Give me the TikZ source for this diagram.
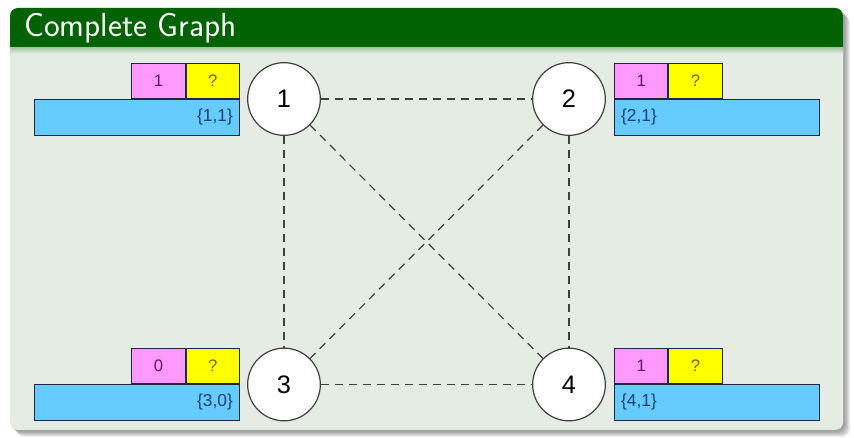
\documentclass[tikz,border=0pt]{standalone}
\usepackage{fontspec}
\usepackage{tikz}
\usetikzlibrary{positioning}
\newfontfamily\labfont{Liberation Sans}
\definecolor{titlegreen}{RGB}{0,98,0}
\definecolor{bodycolor}{RGB}{228,236,228}
\definecolor{cntpink}{RGB}{255,153,255}
\definecolor{cntyellow}{RGB}{255,255,0}
\definecolor{setblue}{RGB}{102,204,255}
\definecolor{boxline}{RGB}{30,40,70}
\definecolor{settext}{RGB}{25,60,120}
\definecolor{pinktext}{RGB}{100,20,100}
\definecolor{yellowtext}{RGB}{110,100,0}
\tikzset{
  vertex/.style={circle, draw=black!75, line width=0.9pt, fill=white, minimum size=54.5pt, inner sep=0pt, font=\labfont\fontsize{19}{21}\selectfont},
  setbox/.style={draw=boxline, line width=0.7pt, fill=setblue, minimum height=27pt, text width=143.75pt, inner xsep=5pt, inner ysep=0pt, font=\labfont\fontsize{13}{15}\selectfont, text=settext},
  cnt/.style={draw=boxline, line width=0.7pt, fill=cntpink, minimum height=26.25pt, minimum width=40pt, inner sep=0pt, font=\labfont\fontsize{12.5}{14}\selectfont, text=pinktext},
  ask/.style={cnt, fill=cntyellow, text=yellowtext},
  edge/.style={dashed, dash pattern=on 6pt off 4.5pt, line width=0.9pt, draw=black!75},
}
\begin{document}
\begin{tikzpicture}[x=0.75pt, y=-0.75pt]
\useasboundingbox (0,0) rectangle (854,438);
% frame with shadow
\foreach \d in {2,...,7}
  \fill[black, opacity=0.07, rounded corners=6pt] (10+\d,8+\d) rectangle (843+\d,430+\d);
\fill[bodycolor, rounded corners=6pt] (10,8) rectangle (843,430);
\begin{scope}
  \clip (0,0) rectangle (854,48);
  \fill[titlegreen, rounded corners=6pt] (10,8) rectangle (843,430);
\end{scope}
\shade[top color=titlegreen!25!bodycolor, bottom color=bodycolor] (10,48) rectangle (843,54);
\node[anchor=base west, inner sep=0pt, text=white, font=\sffamily\fontsize{25}{28}\selectfont] (title) at (24,37) {Complete Graph};

% vertices
\node[vertex] (v1) at (284,99) {1};
\node[vertex] (v2) at (569,99) {2};
\node[vertex] (v3) at (284,384.5) {3};
\node[vertex] (v4) at (569,384.5) {4};

% edges
\draw[edge] (v1) -- (v2);
\draw[edge] (v1) -- (v3);
\draw[edge] (v2) -- (v4);
\draw[edge] (v3) -- (v4);
\draw[edge] (v1) -- (v4);
\draw[edge] (v2) -- (v3);

% boxes
\node[setbox, align=right, anchor=north east] (s1) at (240,99) {\{1,1\}};
\node[ask, above left=0pt of s1.north east] (q1) {?};
\node[cnt, left=0pt of q1] (c1) {1};

\node[setbox, align=left, anchor=north west] (s2) at (614,99) {\{2,1\}};
\node[cnt, above right=0pt of s2.north west] (c2) {1};
\node[ask, right=0pt of c2] (q2) {?};

\node[setbox, align=right, anchor=north east] (s3) at (240,384) {\{3,0\}};
\node[ask, above left=0pt of s3.north east] (q3) {?};
\node[cnt, left=0pt of q3] (c3) {0};

\node[setbox, align=left, anchor=north west] (s4) at (614,384) {\{4,1\}};
\node[cnt, above right=0pt of s4.north west] (c4) {1};
\node[ask, right=0pt of c4] (q4) {?};
\end{tikzpicture}
\end{document}
